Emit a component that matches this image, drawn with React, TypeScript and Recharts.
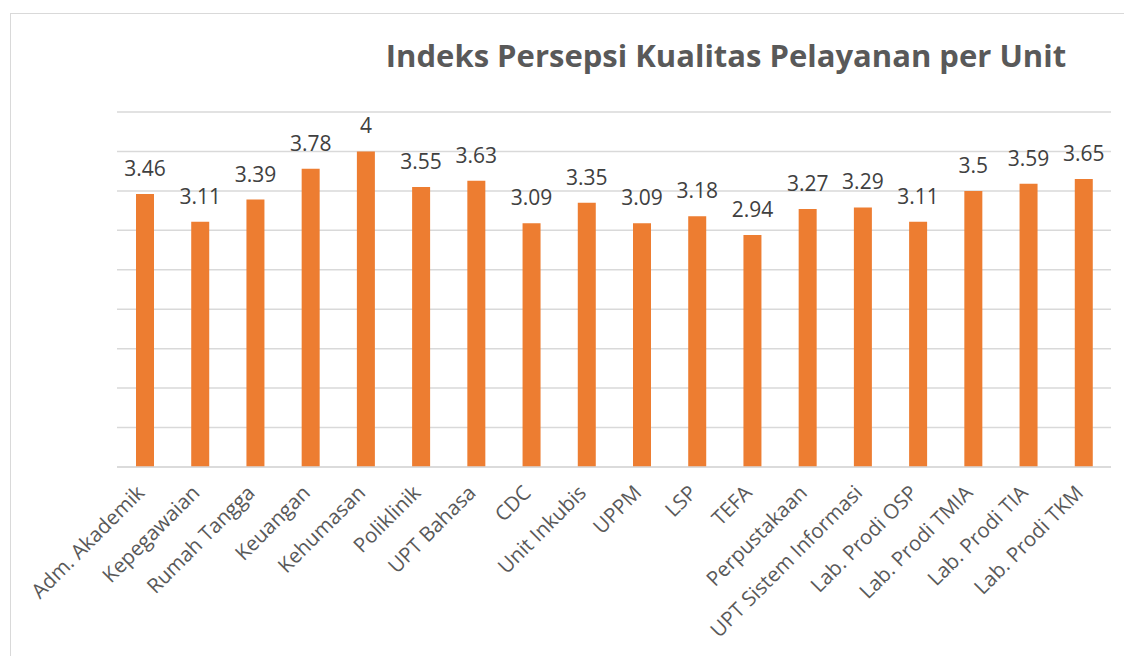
import React from 'react';
import { BarChart, Bar, XAxis, YAxis, CartesianGrid, LabelList } from 'recharts';

const units = [
  'Adm. Akademik',
  'Kepegawaian',
  'Rumah Tangga',
  'Keuangan',
  'Kehumasan',
  'Poliklinik',
  'UPT Bahasa',
  'CDC',
  'Unit Inkubis',
  'UPPM',
  'LSP',
  'TEFA',
  'Perpustakaan',
  'UPT Sistem Informasi',
  'Lab. Prodi OSP',
  'Lab. Prodi TMIA',
  'Lab. Prodi TIA',
  'Lab. Prodi TKM',
];

const scores = [3.46, 3.11, 3.39, 3.78, 4, 3.55, 3.63, 3.09, 3.35, 3.09, 3.18, 2.94, 3.27, 3.29, 3.11, 3.5, 3.59, 3.65];

const yTicks = [0, 0.5, 1, 1.5, 2, 2.5, 3, 3.5, 4, 4.5];

const data = units.map((unit, i) => ({ unit, score: scores[i] }));

const FONT = '"Open Sans", sans-serif';

const AngledTick = (props: any) => {
  const { x, y, payload } = props;
  return (
    <g transform={`translate(${x - 4},${y + 14}) rotate(-45)`}>
      <text textAnchor="end" dy="0.35em" fill="#595959" fontSize={20.5} fontFamily={FONT}>
        {payload.value}
      </text>
    </g>
  );
};

export default function App() {
  return (
    <div style={{ position: 'absolute', left: 0, top: 0, width: 1124, height: 656, overflow: 'hidden', background: '#fff' }}>
      <div
        style={{
          position: 'absolute',
          left: 10,
          top: 13,
          width: 1140,
          height: 700,
          border: '1.5px solid #D9D9D9',
        }}
      />
      <div
        style={{
          position: 'absolute',
          left: 330,
          width: 792,
          top: 34,
          textAlign: 'center',
          fontFamily: FONT,
          fontWeight: 700,
          fontSize: 31,
          color: '#595959',
        }}
      >
        Indeks Persepsi Kualitas Pelayanan per Unit
      </div>
      <div style={{ position: 'absolute', left: 0, top: 0 }}>
        <BarChart
          width={1124}
          height={656}
          data={data}
          margin={{ top: 112, right: 13, left: 117, bottom: 39 }}
          barSize={18}
        >
          <CartesianGrid vertical={false} stroke="#D9D9D9" strokeWidth={1.5} />
          <XAxis
            dataKey="unit"
            interval={0}
            height={150}
            tick={<AngledTick />}
            tickLine={false}
            axisLine={{ stroke: '#D9D9D9', strokeWidth: 1.5 }}
          />
          <YAxis hide domain={[0, 4.5]} ticks={yTicks} width={0} />
          <Bar dataKey="score" fill="#ED7D31" isAnimationActive={false}>
            <LabelList
              dataKey="score"
              position="top"
              offset={18}
              fill="#404040"
              fontSize={21}
              fontFamily={FONT}
            />
          </Bar>
        </BarChart>
      </div>
    </div>
  );
}
